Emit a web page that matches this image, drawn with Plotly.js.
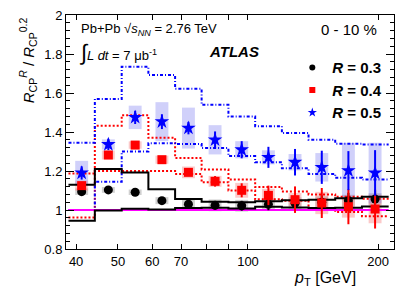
<!DOCTYPE html>
<html>
<head>
<meta charset="utf-8">
<script src="https://cdn.plot.ly/plotly-3.0.1.min.js"></script>
<style>html,body{margin:0;padding:0;background:#fff;}</style>
</head>
<body>
<div id="chart" style="width:415px;height:298px;"></div>
<script>
// ---- data ----
const ptCenters = [41.2, 47.5, 54.8, 63.2, 72.8, 83.9, 96.7, 111.5, 128.5, 148.2, 170.8, 196.9];
const binEdges  = [38.4, 44.2, 51.0, 58.8, 67.8, 78.1, 90.1, 103.9, 119.8, 138.1, 159.2, 183.6, 211.7];

const r03     = [1.094, 1.103, 1.091, 1.048, 1.030, 1.024, 1.022, 1.029, 1.035, 1.040, 1.048, 1.056];
const r03Stat = [0.006, 0.006, 0.008, 0.012, 0.020, 0.022, 0.025, 0.030, 0.032, 0.035, 0.040, 0.045];
const r03Sys  = [0.017, 0.015, 0.014, 0.018, 0.028, 0.030, 0.030, 0.030, 0.030, 0.030, 0.030, 0.030];

const r04     = [1.125, 1.282, 1.333, 1.258, 1.193, 1.147, 1.101, 1.075, 1.053, 1.036, 1.017, 1.005];
const r04Stat = [0.008, 0.010, 0.012, 0.014, 0.017, 0.027, 0.036, 0.050, 0.068, 0.077, 0.090, 0.100];
const r04Sys  = [0.026, 0.023, 0.019, 0.021, 0.030, 0.028, 0.038, 0.034, 0.034, 0.057, 0.056, 0.073];

const r05     = [1.190, 1.336, 1.475, 1.453, 1.420, 1.360, 1.309, 1.270, 1.245, 1.219, 1.202, 1.190];
const r05Stat = [0.034, 0.029, 0.034, 0.038, 0.032, 0.043, 0.044, 0.054, 0.068, 0.085, 0.100, 0.117];
const r05Sys  = [0.062, 0.026, 0.060, 0.100, 0.105, 0.075, 0.044, 0.036, 0.042, 0.073, 0.142, 0.155];

const blackUp = [1.130, 1.210, 1.192, 1.106, 1.057, 1.042, 1.040, 1.045, 1.050, 1.052, 1.060, 1.068];
const blackLo = [0.945, 0.997, 1.006, 1.003, 1.010, 1.012, 1.008, 1.017, 1.013, 1.010, 1.012, 1.018];
const redUp   = [1.187, 1.432, 1.486, 1.370, 1.267, 1.208, 1.156, 1.118, 1.095, 1.080, 1.068, 1.058];
const redLo   = [0.962, 1.200, 1.200, 1.200, 1.185, 1.142, 1.100, 1.055, 1.048, 1.008, 0.990, 0.968];
const blueUp  = [1.345, 1.569, 1.735, 1.692, 1.622, 1.540, 1.480, 1.430, 1.395, 1.360, 1.340, 1.336];
const blueLo  = [1.000, 1.145, 1.300, 1.342, 1.338, 1.318, 1.277, 1.245, 1.214, 1.185, 1.165, 1.156];

const unityLine = [1, 1];

const legendNames = ['<b><i>R</i> = 0.3</b>', '<b><i>R</i> = 0.4</b>', '<b><i>R</i> = 0.5</b>'];

// ---- styles ----
const FONT = 'Liberation Sans, Arial, sans-serif';
const boxHalf = 1.035; // multiplicative half width of systematic boxes on log axis

const traces = [];

function addBoxes(vals, sys, color) {
  for (let i = 0; i < vals.length; i++) {
    const x0 = ptCenters[i] / boxHalf, x1 = ptCenters[i] * boxHalf;
    const y0 = vals[i] - sys[i], y1 = vals[i] + sys[i];
    traces.push({
      x: [x0, x1, x1, x0, x0], y: [y0, y0, y1, y1, y0],
      type: 'scatter', mode: 'lines', fill: 'toself', fillcolor: color,
      line: {width: 0, color: color}, hoverinfo: 'skip', showlegend: false
    });
  }
}
addBoxes(r03, r03Sys, 'rgba(150,150,150,0.45)');
addBoxes(r04, r04Sys, 'rgba(245,120,120,0.40)');
addBoxes(r05, r05Sys, 'rgba(120,120,240,0.35)');

function addStep(vals, color, dash) {
  traces.push({
    x: binEdges, y: vals.concat([vals[vals.length - 1]]),
    type: 'scatter', mode: 'lines', line: {shape: 'hv', color: color, width: 2, dash: dash},
    hoverinfo: 'skip', showlegend: false
  });
}
addStep(redUp, '#ff0000', '2px,2px');
addStep(redLo, '#ff0000', '2px,2px');
addStep(blueUp, '#0000ff', '3px,2px,1px,2px');
addStep(blueLo, '#0000ff', '3px,2px,1px,2px');

traces.push({
  x: [binEdges[0], binEdges[binEdges.length - 1]], y: unityLine,
  type: 'scatter', mode: 'lines', line: {color: '#ff00ff', width: 2},
  hoverinfo: 'skip', showlegend: false
});
addStep(blackUp, '#000000', 'solid');
addStep(blackLo, '#000000', 'solid');

function addPoints(vals, stat, color, symbol, size, name, legSize) {
  traces.push({
    x: ptCenters, y: vals, type: 'scatter', mode: 'markers', name: name,
    marker: {color: color, symbol: symbol, size: size, line: {width: 0}},
    error_y: {type: 'data', array: stat, visible: true, color: color, thickness: 2, width: 0},
    showlegend: false
  });
  // legend entry with the smaller legend symbol of the reference
  traces.push({
    x: [null], y: [null], type: 'scatter', mode: 'markers', name: name,
    marker: {color: color, symbol: symbol, size: legSize, line: {width: 0}},
    showlegend: true, hoverinfo: 'skip'
  });
}
addPoints(r03, r03Stat, '#000000', 'circle', 9, legendNames[0], 6);
addPoints(r04, r04Stat, '#ff0000', 'square', 9, legendNames[1], 6);
addPoints(r05, r05Stat, '#0000ff', 'star', 11, legendNames[2], 7);

const yTicks = [0.8, 1, 1.2, 1.4, 1.6, 1.8, 2];
const xTicks = [40, 50, 60, 70, 80, 90, 100, 200];
const xTickText = ['40', '50', '60', '70', '', '', '100', '200'];

const layout = {
  width: 415, height: 298,
  margin: {l: 66, r: 21, t: 15, b: 49},
  paper_bgcolor: '#ffffff', plot_bgcolor: '#ffffff',
  font: {family: FONT, color: '#000000', size: 13},
  showlegend: true,
  legend: {
    x: 0.69, y: 0.845, xanchor: 'left', yanchor: 'top',
    bgcolor: 'rgba(0,0,0,0)', font: {family: FONT, size: 15, color: '#000'},
    tracegroupgap: 0, itemclick: false, itemwidth: 30
  },
  xaxis: {
    type: 'log', range: [Math.log10(37.9), Math.log10(217.8)],
    tickmode: 'array', tickvals: xTicks, ticktext: xTickText,
    ticks: 'inside', ticklen: 5, tickcolor: '#000', tickwidth: 1,
    showline: true, linecolor: '#000', linewidth: 1, mirror: 'ticks',
    showgrid: false, zeroline: false,
    tickfont: {family: FONT, size: 13, color: '#000'}
  },
  yaxis: {
    range: [0.8, 2],
    tickmode: 'array', tickvals: yTicks, ticktext: yTicks.map(String),
    ticks: 'inside', ticklen: 8, tickcolor: '#000', tickwidth: 1,
    minor: {ticks: 'inside', ticklen: 4, dtick: 0.04, tick0: 0.8, tickcolor: '#000', showgrid: false},
    showline: true, linecolor: '#000', linewidth: 1, mirror: 'ticks',
    showgrid: false, zeroline: false,
    tickfont: {family: FONT, size: 13, color: '#000'}
  },
  annotations: [
    {text: 'Pb+Pb √<i>s</i><sub><i>NN</i></sub> = 2.76 TeV', xref: 'paper', yref: 'paper',
     x: 0.04, y: 0.936, xanchor: 'left', yanchor: 'middle', showarrow: false,
     font: {family: FONT, size: 13, color: '#000'}},
    {text: '<span style="font-size:22px">∫</span><i>L dt</i> = 7 μb<sup>-1</sup>', xref: 'paper', yref: 'paper',
     x: 0.035, y: 0.84, xanchor: 'left', yanchor: 'middle', showarrow: false,
     font: {family: FONT, size: 13, color: '#000'}},
    {text: '<b><i>ATLAS</i></b>', xref: 'paper', yref: 'paper',
     x: 0.43, y: 0.842, xanchor: 'left', yanchor: 'middle', showarrow: false,
     font: {family: FONT, size: 15, color: '#000'}},
    {text: '0 - 10 %', xref: 'paper', yref: 'paper',
     x: 0.955, y: 0.936, xanchor: 'right', yanchor: 'middle', showarrow: false,
     font: {family: FONT, size: 15, color: '#000'}},
    {text: '<i>R</i><sub>CP</sub><sup><i>R</i></sup> / <i>R</i><sub>CP</sub><sup>0.2</sup>', xref: 'paper', yref: 'paper',
     x: -0.118, y: 1.0, xanchor: 'center', yanchor: 'top', textangle: -90, showarrow: false,
     font: {family: FONT, size: 15, color: '#000'}},
    {text: '<i>p</i><sub>T</sub> [GeV]', xref: 'paper', yref: 'paper',
     x: 0.89, y: -0.125, xanchor: 'right', yanchor: 'middle', showarrow: false,
     font: {family: FONT, size: 16, color: '#000'}}
  ]
};

Plotly.newPlot('chart', traces, layout, {displayModeBar: false, staticPlot: true});
</script>
</body>
</html>
